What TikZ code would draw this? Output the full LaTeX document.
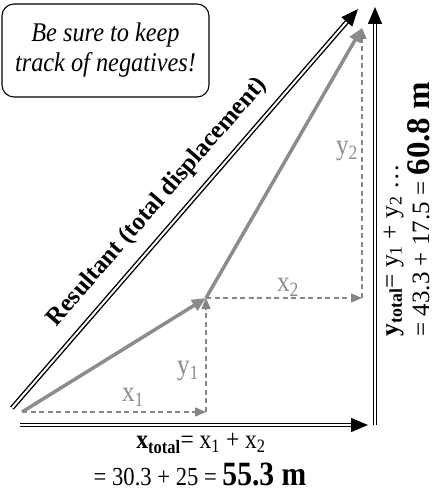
\documentclass[tikz,border=0pt]{standalone}
\usepackage{fontspec}
\setmainfont{Liberation Serif}
\usetikzlibrary{arrows.meta}
\definecolor{my_gray}{HTML}{8C8C8C}
\definecolor{my_dashgray}{HTML}{858585}

\begin{document}
\begin{tikzpicture}[
    x=1pt, y=1pt,
    total/.style={draw=black, line width=1.4pt, double=white, double distance=2pt,
        -{Triangle[length=17pt, width=14pt]}},
    comp/.style={my_gray, line width=3.5pt, -{Triangle[length=14pt, width=12pt]}},
    part/.style={my_dashgray, line width=1.3pt, dash pattern=on 5pt off 3.5pt,
        -{Triangle[length=11pt, width=9pt]}},
    narrow/.style={xscale=0.87},
    lab/.style={narrow, my_gray, font=\fontsize{29}{30}\selectfont}
]
\useasboundingbox (0, 0) rectangle (438, 493);

% ---------------------------------------------------------------
%  Two displacements added tip to tail, split into x and y parts
% ---------------------------------------------------------------

% ===== Punkte =====
\coordinate (O) at (22, 81);
\coordinate (A) at (206, 195);
\coordinate (B) at (362, 465);
\coordinate (Ax) at (206, 81);
\coordinate (Bx) at (362, 195);
\coordinate (resS) at (12, 85);
\coordinate (resE) at (358, 484);
\coordinate (xS) at (20, 68);
\coordinate (xE) at (368, 68);
\coordinate (yS) at (375, 68);
\coordinate (yE) at (375, 486);

% ===== Hinweis =====
\node[draw, rounded corners=12pt, line width=1.1pt, minimum width=207pt,
    minimum height=93pt] (note) at (105.5, 442.5) {};
\node[xscale=0.9, align=center, font=\itshape\fontsize{27}{30}\selectfont]
    (notetext) at (note.center) {Be sure to keep\\track of negatives!};

% ===== Komponenten =====
\draw[part] (O) -- (Ax);
\draw[part] (Ax) -- (A);
\draw[part] (A) -- (Bx);
\draw[part] (Bx) -- (B);
\node[lab] (x1) at (133, 96) {x\textsubscript{1}};
\node[lab] (y1) at (188, 122) {y\textsubscript{1}};
\node[lab] (x2) at (288, 206) {x\textsubscript{2}};
\node[lab] (y2) at (347, 342) {y\textsubscript{2}};

% ===== Einzelvektoren =====
\draw[comp] (O) -- (A);
\draw[comp] (A) -- (B);

% ===== Resultierende und Summen =====
\draw[total] (resS) -- (resE);
\draw[total] (xS) -- (xE);
\draw[total] (yS) -- (yE);

\node[anchor=base, rotate=49, font=\bfseries\fontsize{25}{28}\selectfont]
    (reslab) at (162, 287) {Resultant (total displacement)};

\node[narrow, anchor=base, font=\fontsize{27}{30}\selectfont] (xsum) at (201, 44)
    {\textbf{x\textsubscript{total}}= x\textsubscript{1} + x\textsubscript{2}};
\node[narrow, anchor=base, font=\fontsize{26}{30}\selectfont] (xval) at (200, 8)
    {= 30.3 + 25 = \textbf{\fontsize{34}{36}\selectfont 55.3 m}};

\node[anchor=base west, rotate=90, font=\fontsize{25.5}{30}\selectfont] (ysum) at (398, 153)
    {\textbf{y\textsubscript{total}}= y\textsubscript{1} + y\textsubscript{2} \dots};
\node[anchor=base west, rotate=90, font=\fontsize{25}{30}\selectfont] (yval) at (429, 153)
    {= 43.3 + 17.5 = \textbf{\fontsize{33}{36}\selectfont 60.8 m}};

\end{tikzpicture}
\end{document}
